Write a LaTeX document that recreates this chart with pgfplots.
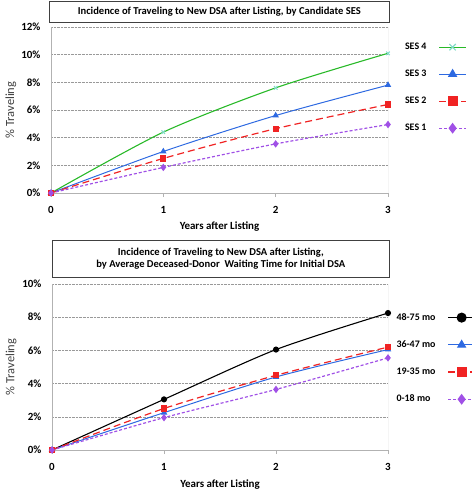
\documentclass[border=0pt]{standalone}
\usepackage{fontspec}
\setmainfont{Carlito}
\usepackage{pgfplots}
\pgfplotsset{compat=1.18}
\definecolor{sgreen}{RGB}{40,185,40}
\definecolor{sxmark}{RGB}{130,220,200}
\definecolor{sblue}{RGB}{45,105,225}
\definecolor{sred}{RGB}{240,35,35}
\definecolor{spurple}{RGB}{160,80,230}
\pgfplotsset{
  mystyle/.style={
    scale only axis,
    xmin=0, xmax=3, ymin=0,
    xtick={0,1,2,3},
    axis x line*=bottom, axis y line*=left,
    axis line style={-, gray!60, line width=0.9pt},
    ymajorgrids, grid style={densely dotted, gray!80, line width=0.6pt},
    tick label style={font=\bfseries\fontsize{11}{12}\selectfont},
    /pgf/number format/assume math mode=true,
    yticklabel={\pgfmathprintnumber{\tick}\%},
    tick align=outside,
    ytick style={draw=none},
    xtick style={gray!60, line width=0.8pt},
    major tick length=4bp,
    xticklabel style={yshift=-6bp},
    yticklabel style={xshift=-3bp},
    xlabel={\bfseries Years after Listing},
    ylabel={\% Traveling},
    xlabel style={font=\fontsize{11}{12}\selectfont, at={(axis description cs:0.5,-0.2)}, anchor=center},
    ylabel style={font=\fontsize{12.5}{14}\selectfont, color=black!75, anchor=center},
    legend plot pos=right,
    legend cell align=left,
    legend style={draw=none, fill=none, inner sep=0pt, row sep=17bp,
      font=\bfseries\fontsize{10}{11}\selectfont,
      nodes={inner sep=1pt}},
    legend image code/.code={\draw[mark repeat=2,mark phase=2,#1, mark size=4.5pt]
       plot coordinates {(0bp,0bp) (13.5bp,0bp) (27bp,0bp)};},
    every axis plot/.append style={smooth, tension=0.45},
  }
}
\begin{document}
\begin{tikzpicture}
\useasboundingbox (0,0) rectangle (472bp,-492bp);
% top title
\node[draw=black!75, line width=0.6pt, anchor=north west, minimum width=340bp, minimum height=21bp, inner sep=0pt]
  at (49bp,-1bp) {\bfseries\fontsize{10.6}{12}\selectfont Incidence of Traveling to New DSA after Listing,\ by Candidate SES};
\begin{axis}[mystyle,
  at={(51bp,-193bp)}, anchor=south west,
  width=337bp, height=166bp,
  ymax=12, ytick={0,2,...,12},
  ylabel style={at={(axis description cs:-0.119,0.5)}},
  legend style={at={(1.047,0.91)}, anchor=north west, /tikz/column sep=11bp},
]
\addplot[sgreen, line width=1.1pt, mark=x, mark size=2.5pt, mark options={sxmark, solid}]
  coordinates {(0,0) (1,4.4) (2,7.6) (3,10.1)};
\addlegendentry{SES 4}
\addplot[sblue, line width=1pt, mark=triangle*, mark size=2.8pt, mark options={solid}]
  coordinates {(0,0) (1,3.0) (2,5.6) (3,7.8)};
\addlegendentry{SES 3}
\addplot[sred, line width=1.2pt, dash pattern=on 7bp off 4bp, mark=square*, mark size=2.5pt, mark options={solid}]
  coordinates {(0,0) (1,2.5) (2,4.65) (3,6.4)};
\addlegendentry{SES 2}
\addplot[spurple, line width=1.2pt, dash pattern=on 3bp off 2bp, mark=diamond*, mark size=2.8pt, mark options={solid}]
  coordinates {(0,0) (1,1.85) (2,3.55) (3,4.95)};
\addlegendentry{SES 1}
\draw[gray!60, line width=0.9pt] (rel axis cs:1,0) -- (rel axis cs:1,1);
\end{axis}
% bottom title
\node[draw=black!75, line width=0.6pt, anchor=north west, minimum width=337bp, minimum height=37bp, inner sep=0pt, align=center]
  at (52bp,-240bp) {\bfseries\fontsize{10.6}{14}\selectfont Incidence of Traveling to New DSA after Listing,\\ \bfseries\fontsize{10.6}{14}\selectfont by Average Deceased-Donor\ \ Waiting Time for Initial DSA};
\begin{axis}[mystyle,
  at={(52bp,-450bp)}, anchor=south west,
  width=336bp, height=166bp,
  ymax=10, ytick={0,2,...,10},
  ylabel style={at={(axis description cs:-0.122,0.5)}},
  xlabel style={at={(axis description cs:0.5,-0.21)}},
  legend style={at={(1.022,0.83)}, anchor=north west, /tikz/column sep=11bp},
]
\addplot[black, line width=1.1pt, mark=*, mark size=2.5pt, mark options={solid}]
  coordinates {(0,0) (1,3.05) (2,6.05) (3,8.25)};
\addlegendentry{48-75 mo}
\addplot[sblue, line width=1pt, mark=triangle*, mark size=2.8pt, mark options={solid}]
  coordinates {(0,0) (1,2.25) (2,4.4) (3,6.05)};
\addlegendentry{36-47 mo}
\addplot[sred, line width=1.2pt, dash pattern=on 7bp off 4bp, mark=square*, mark size=2.5pt, mark options={solid}]
  coordinates {(0,0) (1,2.5) (2,4.5) (3,6.2)};
\addlegendentry{19-35 mo}
\addplot[spurple, line width=1.2pt, dash pattern=on 3bp off 2bp, mark=diamond*, mark size=2.8pt, mark options={solid}]
  coordinates {(0,0) (1,1.95) (2,3.65) (3,5.55)};
\addlegendentry{0-18 mo}
\draw[gray!60, line width=0.9pt] (rel axis cs:1,0) -- (rel axis cs:1,1);
\end{axis}
\end{tikzpicture}
\end{document}
